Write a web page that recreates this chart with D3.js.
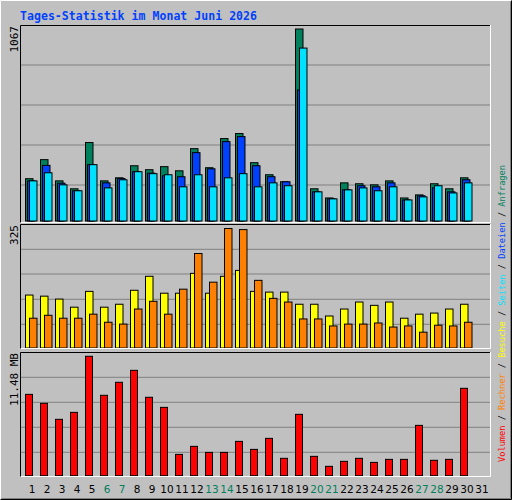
<!DOCTYPE html>
<html><head><meta charset="utf-8">
<script src="https://cdn.jsdelivr.net/npm/d3@7"></script>
<style>body{margin:0;background:#fff}</style></head>
<body><svg id="c" width="512" height="500"></svg>
<script>
const days = d3.range(1,32);
const weekend = [6,7,13,14,20,21,27,28];
const anfragen = [235,341,223,179,436,223,240,307,285,302,279,402,296,458,486,324,257,218,1067,179,128,212,207,201,223,128,145,207,179,240];
const dateien  = [223,309,210,168,313,212,236,274,266,251,246,380,290,441,469,307,246,218,728,162,123,173,196,190,212,117,140,184,162,229];
const seiten   = [223,268,201,168,313,184,229,274,263,257,190,257,190,240,263,190,212,196,961,162,123,173,184,168,190,117,134,196,156,212];
const besuche  = [144,141,133,111,154,111,119,157,195,149,149,203,149,195,211,154,152,152,119,119,87,106,125,116,125,81,92,95,106,119];
const rechner  = [81,89,81,81,92,70,65,106,127,92,160,257,179,325,322,184,135,125,79,79,60,65,65,68,57,60,43,62,60,70];
const volumen  = [7.82,6.96,5.42,6.09,11.48,7.73,8.98,10.13,7.54,6.57,2.05,2.82,2.24,2.24,3.30,2.53,3.59,1.67,5.90,1.86,0.90,1.38,1.67,1.28,1.57,1.57,4.84,1.48,1.57,8.40];
const maxLabels = ["1067","325","11.48 MB"];
const legend = [["Volumen","#ff0000"],["Rechner","#ff8000"],["Besuche","#ffff00"],["Seiten","#00e0ff"],["Dateien","#0040ff"],["Anfragen","#00805c"]];

const svg = d3.select("#c");
svg.append("rect").attr("x",0).attr("y",0).attr("width",512).attr("height",500).attr("fill","#c0c0c0");
svg.append("path").attr("d","M0.5,499.5V0.5H511.5").attr("stroke","#fff").attr("fill","none");
svg.append("path").attr("d","M0.5,499.5H511.5V0.5").attr("stroke","#000").attr("fill","none");
svg.append("path").attr("d","M1.5,498.5H510.5V1.5").attr("stroke","#808080").attr("fill","none");

svg.append("text").attr("x",20).attr("y",20).attr("font-family","DejaVu Sans Mono").attr("font-weight","bold")
  .attr("font-size",11.5).attr("fill","#0040ff").attr("textLength",237).text("Tages-Statistik im Monat Juni 2026");

const x = d3.scaleBand().domain(days).range([25,490]).paddingInner(0).paddingOuter(0);

const panels = [
  {top:25,bottom:223,base:221,maxPix:29,max:1067,grids:[185,145,105,65],series:[[anfragen,"#00805c",0],[dateien,"#0040ff",2],[seiten,"#00e0ff",4]],w:7.5,label:maxLabels[0]},
  {top:224,bottom:349,base:348,maxPix:228.5,max:325,grids:[324.3,299.3,274,249.3],series:[[besuche,"#ffff00",0],[rechner,"#ff8000",4]],w:7.5,label:maxLabels[1]},
  {top:352,bottom:477,base:475.7,maxPix:356.3,max:11.48,grids:[452.3,427.3,402.3,377.3],series:[[volumen,"#ff0000",0]],w:7,label:maxLabels[2]}
];
panels.forEach(p=>{
  const y = d3.scaleLinear().domain([0,p.max]).range([p.base,p.maxPix]);
  const g = svg.append("g");
  p.grids.forEach(gy=>g.append("line").attr("x1",21).attr("x2",490).attr("y1",gy).attr("y2",gy).attr("stroke","#808080").attr("stroke-width",1));
  p.series.forEach(([vals,col,off])=>{
    g.selectAll(null).data(vals).enter().append("rect")
      .attr("x",(d,i)=>x(days[i])+off+0.5).attr("width",p.w)
      .attr("y",d=>y(d)).attr("height",d=>p.base-y(d))
      .attr("fill",col).attr("stroke","#000").attr("stroke-width",1);
  });
  g.append("path").attr("d",`M20.5,${p.bottom}V${p.top}.5H491`).attr("stroke","#000").attr("fill","none");
  g.append("path").attr("d",`M20.5,${p.bottom-0.5}H490.5V${p.top}`).attr("stroke","#fff").attr("fill","none");
  g.append("text").attr("transform",`translate(18,${p.top+1}) rotate(-90)`).attr("text-anchor","end")
    .attr("font-family","DejaVu Sans Mono").attr("font-size",11).attr("fill","#000").text(p.label);
});

svg.append("g").selectAll("text").data(days).enter().append("text")
  .attr("x",d=>x(d)+x.bandwidth()/2-0.5).attr("y",493).attr("text-anchor","middle")
  .attr("font-family","DejaVu Sans").attr("font-size",10.5)
  .attr("fill",d=>weekend.includes(d)?"#00805c":"#000").text(d=>d);

const lg = svg.append("text").attr("transform","translate(505,462) rotate(-90)")
  .attr("font-family","DejaVu Sans Mono").attr("font-size",9.5).attr("textLength",297).attr("lengthAdjust","spacingAndGlyphs");
legend.forEach(([t,c],i)=>{
  lg.append("tspan").attr("fill",c).text(t);
  if(i<legend.length-1) lg.append("tspan").attr("fill","#000").text(" / ");
});
</script></body></html>
